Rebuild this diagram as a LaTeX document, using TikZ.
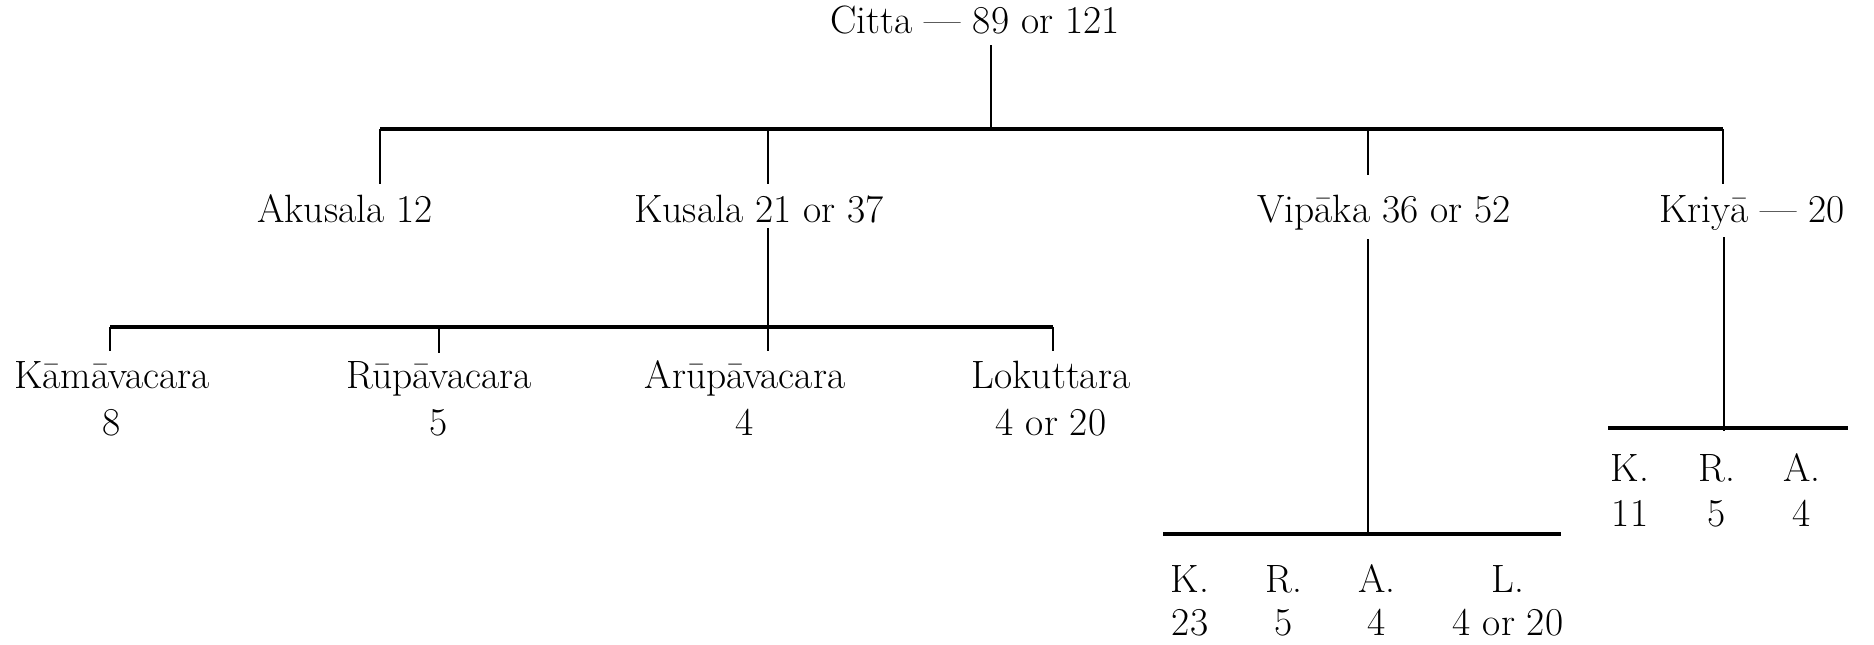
\documentclass[tikz,border=0pt]{standalone}
\usepackage{tikz}
\usetikzlibrary{positioning}

\begin{document}
\begin{tikzpicture}[x=1pt,y=-1pt,
    lbl/.style={anchor=base, inner sep=0pt, font=\fontsize{39.5}{46}\selectfont},
    bar/.style={line width=4.5pt},
    stem/.style={line width=2.4pt}]
    \useasboundingbox (0,0) rectangle (1874,645);

    % Top: Citta
    \node[lbl] (citta) at (975,33) {Citta — 89 or 121};
    \coordinate (topmid) at (991,129);
    \coordinate (topL) at (380,129);
    \coordinate (topR) at (1723,129);
    \draw[stem] ([yshift=-12pt]topmid |- citta.base) -- (topmid);
    \draw[bar] (topL) -- (topR);

    % Second row
    \node[lbl] (akusala) at (345,222) {Akusala 12};
    \node[lbl] (kusala) at (759,222) {Kusala 21 or 37};
    \node[lbl] (vipaka) at (1384,222) {Vipāka 36 or 52};
    \node[lbl] (kriya) at (1752,222) {Kriyā — 20};

    \coordinate (dKu) at (768,129);
    \coordinate (dVi) at (1368,129);
    \draw[stem] (topL) -- ++(0,55);
    \draw[stem] (dKu) -- ++(0,55);
    \draw[stem] (dVi) -- ++(0,46);
    \draw[stem] (topR) -- ++(0,55);

    % Kusala branch
    \coordinate (kmid) at (768,327);
    \coordinate (kL) at (110,327);
    \coordinate (kR) at (1053,327);
    \draw[stem] ([yshift=-6pt]kmid |- kusala.base) -- ([yshift=-24pt]kmid);
    \draw[bar] (kL) -- (kR);
    \draw[stem] (kL) -- ++(0,24);
    \draw[stem] (439,327) -- ++(0,26);
    \draw[stem] (kR) -- ++(0,24);

    \foreach \n/\x/\t/\v in {kama/112/Kāmāvacara/8, rupa/439/Rūpāvacara/5,
                             arupa/745/Arūpāvacara/4, loku/1051/Lokuttara/4 or 20} {
        \node[lbl] (\n) at (\x,388) {\t};
        \node[lbl] (\n num) at (\x,435) {\v};
    }

    % Vipaka branch
    \coordinate (vmid) at (1368,534);
    \draw[stem] ([yshift=-17pt]vmid |- vipaka.base) -- (vmid);
    \draw[bar] (1163,534) -- (1561,534);
    \foreach \n/\x/\t/\v in {vk/1190/K./23, vr/1284/R./5, va/1377/A./4, vl/1508/L./4 or 20} {
        \node[lbl] (\n) at (\x,592) {\t};
        \node[lbl] (\n num) at (\x,635) {\v};
    }

    % Kriya branch
    \coordinate (rmid) at (1724,428);
    \draw[stem] ([yshift=-15pt]rmid |- kriya.base) -- ([yshift=-3pt]rmid);
    \draw[bar] (1608,428) -- (1848,428);
    \foreach \n/\x/\t/\v in {rk/1630/K./11, rr/1717/R./5, ra/1802/A./4} {
        \node[lbl] (\n) at (\x,481) {\t};
        \node[lbl] (\n num) at (\x,526) {\v};
    }
\end{tikzpicture}
\end{document}
